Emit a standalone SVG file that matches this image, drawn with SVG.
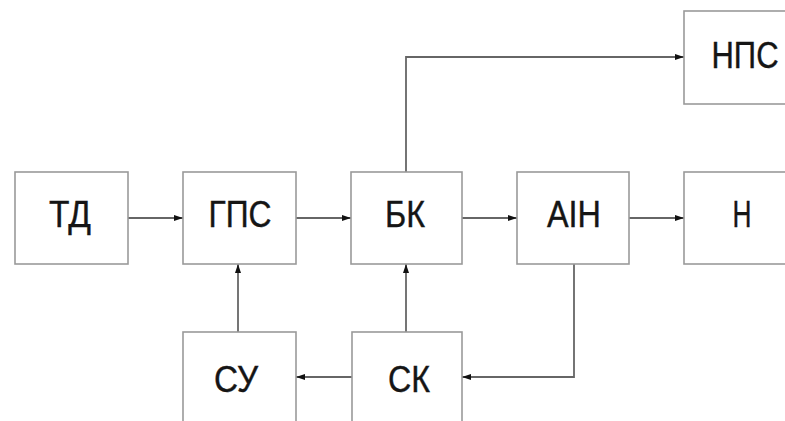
<svg xmlns="http://www.w3.org/2000/svg" width="785" height="421" viewBox="0 0 785 421">
<defs>
<style>
.box{fill:#fff;stroke:#9a9a9a;stroke-width:1.6}
.lbl{font-family:"Liberation Sans",Arial,sans-serif;font-size:36px;fill:#151515;stroke:#151515;stroke-width:0.4;text-anchor:middle}
.con{fill:none;stroke:#666;stroke-width:1.8}
</style>
<marker id="ah" markerWidth="10" markerHeight="8" refX="9" refY="4" orient="auto" markerUnits="userSpaceOnUse">
<path d="M0,1 L9,4 L0,7 Z" fill="#111"/>
</marker>
</defs>
<rect width="785" height="421" fill="#fff"/>
<g id="connectors">
<path class="con" d="M128,218 L183,218" marker-end="url(#ah)"/>
<path class="con" d="M296,218 L351,218" marker-end="url(#ah)"/>
<path class="con" d="M462,218 L517,218" marker-end="url(#ah)"/>
<path class="con" d="M629,218 L684,218" marker-end="url(#ah)"/>
<path class="con" d="M406,172 L406,57 L684,57" marker-end="url(#ah)"/>
<path class="con" d="M238,332 L238,264" marker-end="url(#ah)"/>
<path class="con" d="M406,332 L406,264" marker-end="url(#ah)"/>
<path class="con" d="M352,377 L296,377" marker-end="url(#ah)"/>
<path class="con" d="M574,264 L574,377 L462,377" marker-end="url(#ah)"/>
</g>
<g id="TD"><rect class="box" x="15" y="172" width="113" height="92"/><text class="lbl" x="70" y="227" textLength="42" lengthAdjust="spacingAndGlyphs">ТД</text></g>
<g id="GPS"><rect class="box" x="183" y="172" width="113" height="92"/><text class="lbl" x="240" y="227" textLength="63" lengthAdjust="spacingAndGlyphs">ГПС</text></g>
<g id="BK"><rect class="box" x="351" y="172" width="111" height="92"/><text class="lbl" x="405" y="227" textLength="40" lengthAdjust="spacingAndGlyphs">БК</text></g>
<g id="AIN"><rect class="box" x="517" y="172" width="112" height="92"/><text class="lbl" x="574" y="227" textLength="54" lengthAdjust="spacingAndGlyphs">АІН</text></g>
<g id="N"><rect class="box" x="684" y="172" width="120" height="92"/><text class="lbl" x="742" y="227" textLength="19" lengthAdjust="spacingAndGlyphs">Н</text></g>
<g id="NPS"><rect class="box" x="684" y="11" width="120" height="93"/><text class="lbl" x="745" y="68" textLength="67" lengthAdjust="spacingAndGlyphs">НПС</text></g>
<g id="SU"><rect class="box" x="183" y="332" width="113" height="100"/><text class="lbl" x="236" y="392" textLength="44" lengthAdjust="spacingAndGlyphs">СУ</text></g>
<g id="SK"><rect class="box" x="352" y="332" width="110" height="100"/><text class="lbl" x="409" y="392" textLength="42" lengthAdjust="spacingAndGlyphs">СК</text></g>
</svg>
